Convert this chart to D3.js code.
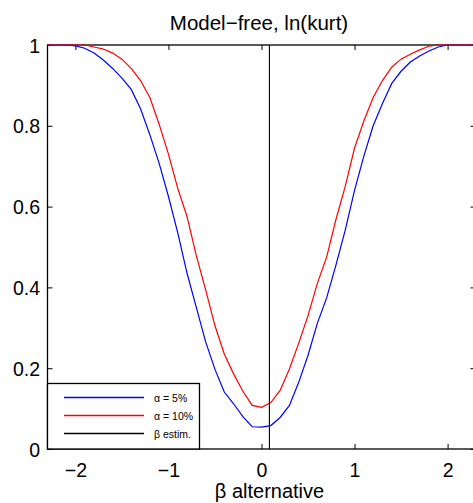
<!DOCTYPE html>
<html>
<head>
<meta charset="utf-8">
<script src="https://cdn.jsdelivr.net/npm/d3@7"></script>
<style>
  body { margin: 0; background: #fff; }
  svg { display: block; font-family: "Liberation Sans", Arial, sans-serif; }
</style>
</head>
<body>
<svg id="chart" width="473" height="503"></svg>
<script>
// beta grid and rejection frequencies
var beta = [-2.3, -2.2, -2.1, -2.0, -1.9, -1.8, -1.7, -1.6, -1.5, -1.4, -1.3, -1.2, -1.1, -1.0,
  -0.9, -0.8, -0.7, -0.6, -0.5, -0.4, -0.3, -0.2, -0.1, 0.0, 0.1, 0.2, 0.3, 0.4, 0.5, 0.6,
  0.7, 0.8, 0.9, 1.0, 1.1, 1.2, 1.3, 1.4, 1.5, 1.6, 1.7, 1.8, 1.9, 2.0, 2.1, 2.2, 2.3];
var alpha5 = [1, 1, 1, 0.998, 0.992, 0.980, 0.963, 0.942, 0.918, 0.89, 0.842, 0.778, 0.707, 0.625,
  0.535, 0.435, 0.35, 0.265, 0.197, 0.141, 0.112, 0.08, 0.055, 0.054, 0.058, 0.078, 0.108, 0.165, 0.232, 0.311,
  0.374, 0.455, 0.542, 0.64, 0.725, 0.80, 0.855, 0.905, 0.935, 0.958, 0.973, 0.985, 0.995, 1, 1, 1, 1];
var alpha10 = [1, 1, 1, 1, 1, 0.995, 0.99, 0.98, 0.965, 0.942, 0.912, 0.87, 0.804, 0.73,
  0.645, 0.575, 0.478, 0.394, 0.305, 0.235, 0.186, 0.143, 0.108, 0.103, 0.115, 0.145, 0.198, 0.262, 0.33, 0.41,
  0.475, 0.568, 0.65, 0.745, 0.812, 0.87, 0.912, 0.945, 0.965, 0.977, 0.988, 0.997, 1, 1, 1, 1, 1];
var betaEstim = 0.085;
var xTicks = [-2, -1, 0, 1, 2];
var yTicks = [0, 0.2, 0.4, 0.6, 0.8, 1];
var legendLabels = ["\u03b1 = 5%", "\u03b1 = 10%", "\u03b2  estim."];
var legendColors = ["#0000ff", "#ff0000", "#000000"];

(function () {
  var svg = d3.select("#chart"),
    pl = 47.5, pr = 475.5, pt = 45, pb = 449;

  var x = d3.scaleLinear().domain([-2.3, 2.3]).range([pl, pr]);
  var y = d3.scaleLinear().domain([0, 1]).range([pb, pt]);

  svg.append("rect").attr("width", 473).attr("height", 503).attr("fill", "#fff");

  // axes, ticks pointing inward
  var gx = svg.append("g").attr("transform", "translate(0," + pb + ")")
    .call(d3.axisBottom(x).tickValues(xTicks).tickSize(-5).tickFormat(d3.format("d")));
  var gxt = svg.append("g").attr("transform", "translate(0," + pt + ")")
    .call(d3.axisTop(x).tickValues(xTicks).tickSize(-5).tickFormat(""));
  var gy = svg.append("g").attr("transform", "translate(" + pl + ",0)")
    .call(d3.axisLeft(y).tickValues(yTicks).tickSize(-5).tickFormat(d3.format("")));
  var gyr = svg.append("g").attr("transform", "translate(" + pr + ",0)")
    .call(d3.axisRight(y).tickValues(yTicks).tickSize(-5).tickFormat(""));

  [gx, gxt, gy, gyr].forEach(function (g) {
    g.select(".domain").remove();
    g.selectAll(".tick line").attr("stroke", "#000").attr("stroke-width", 1);
    g.selectAll("text").attr("fill", "#000").style("font-size", "19.5px")
      .style("font-family", "'Liberation Sans', Arial, sans-serif");
  });
  gx.selectAll("text").attr("y", 14).attr("dy", "0.71em");
  gy.selectAll("text").attr("dy", "0.36em").attr("x", -7.5);

  svg.append("rect")
    .attr("x", pl).attr("y", pt)
    .attr("width", pr - pl).attr("height", pb - pt)
    .attr("fill", "none").attr("stroke", "#000").attr("stroke-width", 1.3);

  // curves
  var line = d3.line()
    .x(function (d) { return x(d[0]); })
    .y(function (d) { return y(d[1]); });

  svg.append("path")
    .datum(beta.map(function (b, i) { return [b, alpha5[i]]; }))
    .attr("d", line).attr("fill", "none").attr("stroke", "#0000ff").attr("stroke-width", 1.2);
  svg.append("path")
    .datum(beta.map(function (b, i) { return [b, alpha10[i]]; }))
    .attr("d", line).attr("fill", "none").attr("stroke", "#ff0000").attr("stroke-width", 1.2);

  svg.append("line")
    .attr("x1", x(betaEstim)).attr("x2", x(betaEstim))
    .attr("y1", y(0)).attr("y2", y(1))
    .attr("stroke", "#000").attr("stroke-width", 1.1);

  // legend
  var legend = svg.append("g");
  legend.append("rect")
    .attr("x", pl).attr("y", 383.5).attr("width", 152).attr("height", pb - 383.5)
    .attr("fill", "#fff").attr("stroke", "#000").attr("stroke-width", 1.3);
  legendLabels.forEach(function (lab, i) {
    var ly = 397.5 + i * 18;
    legend.append("line")
      .attr("x1", 64).attr("x2", 144).attr("y1", ly).attr("y2", ly)
      .style("stroke", legendColors[i]).style("stroke-width", "1.5px");
    legend.append("text")
      .attr("x", 154).attr("y", ly + 4)
      .style("font-size", "10.5px").attr("fill", "#000")
      .text(lab);
  });

  // title and axis label
  svg.append("text")
    .attr("x", 259).attr("y", 29.5).attr("text-anchor", "middle")
    .style("font-size", "20.5px").attr("fill", "#000")
    .text("Model\u2212free, ln(kurt)");
  svg.append("text")
    .attr("x", 269.5).attr("y", 497.5).attr("text-anchor", "middle")
    .style("font-size", "20px").attr("fill", "#000")
    .text("\u03b2 alternative");
})();
</script>
</body>
</html>
